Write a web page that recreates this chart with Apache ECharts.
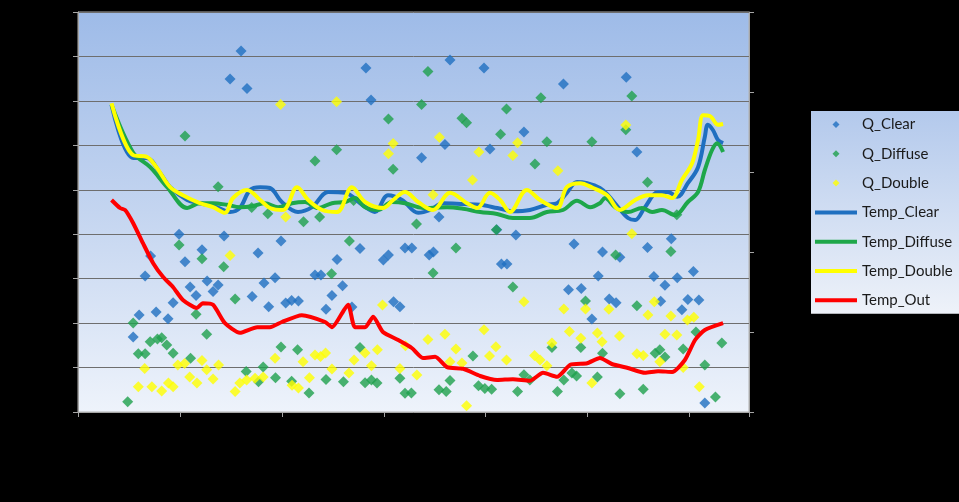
<!DOCTYPE html>
<html>
<head>
<meta charset="utf-8">
<script src="https://cdn.jsdelivr.net/npm/echarts@6/dist/echarts.min.js"></script>
<style>
html,body{margin:0;padding:0;background:#000;}
#chart{width:959px;height:502px;}
</style>
</head>
<body>
<div id="chart"></div>
<script>
// ---- data ----
const seriesNames = ['Q_Clear','Q_Diffuse','Q_Double','Temp_Clear','Temp_Diffuse','Temp_Double','Temp_Out'];

const qClear = [[13.0,169],[14.4,218],[15.8,306],[17.1,351],[18.4,225],[21.2,210],[22.4,246],[23.8,400],[25.2,338],[26.4,281],[27.8,262],[29.2,365],[30.4,295],[31.8,271],[33.0,286],[34.4,396],[35.8,749],[38.4,812],[39.8,728],[41.0,260],[42.4,358],[43.8,290],[44.9,237],[46.4,302],[47.8,385],[48.9,245],[50.3,251],[51.9,250],[55.8,308],[57.2,308],[58.4,231],[59.8,262],[61.0,343],[62.3,284],[64.5,236],[66.4,368],[67.8,774],[69.0,702],[71.9,342],[73.1,353],[74.3,248],[75.8,237],[77.0,369],[78.6,369],[80.9,572],[82.7,353],[83.7,360],[85.0,439],[86.4,602],[87.6,792],[95.6,774],[97.0,592],[98.6,410],[99.7,333],[101.0,333],[103.1,398],[105.0,630],[114.3,738],[115.5,275],[116.8,378],[118.5,278],[121.0,209],[122.5,306],[123.5,360],[125.1,254],[126.7,246],[127.6,348],[129.1,753],[131.6,585],[134.1,370],[135.6,305],[137.2,249],[138.2,285],[139.7,390],[141.1,302],[142.2,230],[143.6,253],[144.9,316],[146.2,252],[147.6,20]];

const qDiffuse = [[11.7,23],[13.0,200],[14.2,131],[15.8,131],[17.0,158],[18.7,164],[19.7,167],[20.9,151],[22.4,132],[23.8,376],[25.2,621],[26.5,121],[27.8,220],[29.2,345],[30.3,175],[33.0,507],[34.3,327],[37.0,254],[39.6,91],[40.9,460],[42.5,68],[43.6,101],[44.7,446],[46.5,77],[47.8,146],[50.3,69],[51.7,140],[53.1,428],[54.4,43],[55.8,565],[56.9,439],[58.4,73],[59.7,311],[60.9,590],[62.5,68],[63.9,385],[64.9,476],[66.4,145],[67.6,66],[69.1,72],[70.4,65],[73.1,659],[74.2,546],[75.8,76],[77.0,42],[78.5,43],[79.7,423],[80.9,692],[82.4,766],[83.6,313],[85.0,50],[86.7,46],[87.6,71],[89.0,369],[90.4,661],[91.5,651],[93.0,126],[94.3,59],[95.8,53],[97.4,51],[98.5,410],[99.5,625],[100.9,682],[102.4,281],[103.5,46],[105.0,84],[106.4,72],[107.6,558],[109.0,707],[110.4,608],[111.6,145],[112.9,46],[114.4,72],[116.3,88],[117.4,81],[118.4,145],[119.5,250],[121.0,608],[122.3,79],[123.5,132],[126.6,353],[127.6,41],[129.0,635],[130.4,711],[131.6,239],[133.1,51],[134.1,517],[135.9,132],[137.0,140],[138.2,124],[139.6,361],[141.0,444],[142.5,142],[145.5,180],[147.6,106],[150.1,34],[151.6,155]];

const qDouble = [[14.2,57],[15.7,98],[17.4,57],[19.7,47],[21.3,65],[22.4,57],[23.5,106],[25.1,109],[26.3,79],[28.0,65],[29.2,116],[30.3,95],[31.8,74],[33.1,106],[35.8,352],[37.0,46],[38.1,65],[39.7,72],[41.7,76],[43.6,79],[46.4,121],[47.7,692],[48.9,439],[50.4,60],[51.9,54],[53.0,113],[54.5,77],[55.8,128],[57.1,125],[58.3,133],[59.8,97],[60.9,698],[63.8,88],[65.0,117],[67.6,133],[69.1,104],[70.5,140],[71.7,241],[73.1,581],[74.2,604],[75.8,98],[77.1,149],[79.8,83],[82.4,163],[83.6,489],[85.1,618],[86.4,175],[87.6,113],[89.0,142],[90.4,110],[91.5,14],[92.9,522],[94.4,585],[95.6,185],[96.9,126],[98.4,147],[100.9,117],[102.4,577],[103.5,606],[105.0,248],[107.5,127],[108.8,117],[110.4,104],[111.6,155],[113.0,543],[114.4,232],[115.7,181],[118.4,166],[119.5,232],[121.0,65],[122.3,178],[123.4,158],[125.0,231],[127.5,171],[129.0,646],[130.4,401],[131.6,131],[133.1,127],[134.2,218],[135.7,248],[137.0,113],[138.2,175],[139.6,216],[141.0,173],[142.5,100],[143.5,207],[145.0,213],[146.3,57]];

const tempClear = [[7.9,38.4],[13.0,31.75],[16.2,31.75],[19.3,29.9],[21.7,28.1],[25.7,26.5],[28.7,26.1],[32.7,25.6],[35.8,25.0],[38.1,25.5],[40.5,27.75],[42.9,28.1],[45.2,28.0],[48.0,26.25],[51.8,25.0],[55.1,25.6],[58.9,27.5],[62.9,27.4],[66.9,25.9],[69.9,25.0],[73.0,27.1],[76.3,26.5],[80.1,24.9],[82.9,25.25],[85.9,26.1],[90.7,26.0],[94.7,25.9],[98.7,25.5],[102.4,25.1],[106.4,25.25],[110.4,25.9],[112.8,26.1],[115.1,27.4],[117.5,28.75],[119.9,28.6],[122.9,28.0],[124.8,27.1],[127.2,25.6],[129.5,24.25],[131.2,24.0],[133.5,25.6],[136.6,27.5],[138.9,27.5],[141.1,26.9],[143.6,28.6],[146.0,30.6],[147.6,34.4],[148.3,35.9],[149.5,35.25],[150.7,34.0],[151.9,33.6]];

const tempDiffuse = [[7.9,38.4],[13.0,32.4],[17.0,30.6],[21.0,28.1],[25.7,25.5],[28.7,26.1],[31.8,26.1],[35.1,25.9],[38.1,25.6],[41.2,25.75],[44.0,26.1],[47.1,25.6],[50.4,26.1],[53.5,26.25],[56.5,25.5],[59.8,26.1],[62.9,26.25],[65.2,26.75],[67.6,25.6],[70.6,25.25],[73.9,26.25],[77.0,26.1],[80.1,25.6],[82.9,25.5],[86.9,25.6],[90.7,25.4],[94.7,25.0],[98.7,24.75],[102.4,24.25],[106.4,24.25],[110.4,25.0],[114.2,25.25],[117.5,26.4],[120.6,25.6],[122.9,26.1],[124.1,26.75],[126.5,25.6],[129.5,25.0],[132.8,25.5],[135.2,25.0],[137.5,25.25],[140.6,24.6],[143.6,26.25],[146.0,27.5],[147.6,30.25],[149.3,32.75],[150.5,33.6],[151.9,32.5]];

const tempDouble = [[7.9,38.6],[13.0,32.1],[16.2,31.9],[18.6,30.5],[21.7,28.1],[24.7,27.1],[28.7,26.1],[31.8,25.6],[34.6,24.9],[36.5,26.75],[39.8,27.75],[42.9,26.5],[45.2,25.5],[48.3,25.25],[51.6,28.1],[54.2,26.5],[57.5,25.25],[61.0,25.0],[64.5,28.1],[67.6,26.25],[71.8,25.5],[74.2,26.5],[77.0,27.5],[80.1,26.25],[83.6,25.25],[87.6,27.4],[91.6,26.1],[94.0,25.5],[97.0,27.4],[99.4,26.5],[101.7,25.0],[105.7,27.75],[108.8,26.5],[112.8,25.5],[115.1,28.1],[118.2,28.6],[121.3,28.0],[124.6,27.1],[127.6,25.25],[131.2,26.5],[134.2,27.1],[137.5,27.1],[139.9,26.75],[142.2,29.0],[144.6,31.1],[146.0,34.0],[147.2,37.1],[148.8,37.0],[150.7,35.9],[151.9,36.0]];

const tempOut = [[7.9,26.5],[9.9,25.5],[11.1,25.25],[13.0,23.6],[15.3,21.1],[17.7,18.6],[20.0,16.9],[22.4,15.6],[24.7,14.0],[28.0,13.0],[29.4,13.6],[31.8,13.4],[34.6,11.1],[38.1,9.9],[42.2,10.6],[45.2,10.6],[48.0,11.25],[52.7,12.1],[58.2,11.25],[59.8,10.6],[63.6,13.4],[65.2,10.6],[67.6,10.6],[69.5,11.9],[71.8,10.0],[75.4,9.0],[78.6,8.0],[81.2,6.75],[84.1,6.9],[86.9,5.6],[90.7,5.4],[94.7,4.5],[98.7,4.0],[102.4,4.1],[106.4,3.9],[109.5,4.9],[112.8,4.4],[115.9,5.9],[119.9,6.1],[122.9,6.75],[125.7,6.0],[129.5,5.5],[133.5,4.9],[136.6,5.1],[139.9,5.0],[142.9,6.5],[145.3,9.0],[147.6,10.25],[151.9,11.1]];

// ---- chart ----
const colors = {
  qClear:'#1f6fc0', qDiffuse:'#1ea04c', qDouble:'#ffff00',
  tClear:'#1f6fc0', tDiffuse:'#1ea74a', tDouble:'#ffff00', tOut:'#ff0000'
};
const diamondIcon = 'path://M0,0 M42,14 M21,3.5 L24.5,7 L21,10.5 L17.5,7 Z';
const barIcon = 'path://M0,0 M42,14 M0,5 L42,5 L42,9 L0,9 Z';

const chart = echarts.init(document.getElementById('chart'), null, {renderer:'canvas'});
const axisGray = '#a6a6a6';
function scatter(name, data, color){
  return {name, type:'scatter', data, yAxisIndex:0, symbol:'diamond', symbolSize:11,
          itemStyle:{color}, z:2};
}
function line(name, data, color, smooth){
  return {name, type:'line', data, yAxisIndex:1, showSymbol:false, symbol:'none',
          smooth, lineStyle:{color, width:4}, itemStyle:{color}, z:3};
}
function legendItem(name, icon){
  return {name, icon, itemStyle:{borderWidth:0}};
}
chart.setOption({
  backgroundColor:'#000000',
  animation:false,
  grid:{left:78, right:210, top:12, bottom:90, show:true, borderColor:'#b0b0b0', borderWidth:1,
    backgroundColor:{type:'linear', x:0, y:0, x2:0, y2:1,
      colorStops:[{offset:0,color:'#9ebbe8'},{offset:0.5,color:'#c4d5f0'},{offset:1,color:'#eef3fb'}]}},
  xAxis:{type:'value', min:0, max:158, interval:24,
    axisLine:{show:true, onZero:false, lineStyle:{color:axisGray}},
    axisTick:{show:true, length:5, lineStyle:{color:axisGray}},
    axisLabel:{show:false}, splitLine:{show:false}},
  yAxis:[
    {type:'value', position:'left', min:0, max:900, interval:100,
     axisLine:{show:true, lineStyle:{color:axisGray}},
     axisTick:{show:true, length:5, lineStyle:{color:axisGray}},
     axisLabel:{show:false},
     splitLine:{show:true, lineStyle:{color:'#6e6e6e', width:1}}},
    {type:'value', position:'right', min:0, max:50, interval:10,
     axisLine:{show:true, lineStyle:{color:axisGray}},
     axisTick:{show:true, length:5, lineStyle:{color:axisGray}},
     axisLabel:{show:false}, splitLine:{show:false}}
  ],
  legend:{orient:'vertical', left:811, top:111, itemWidth:42, itemHeight:14, itemGap:14.3,
    padding:[6,20,6,4],
    backgroundColor:{type:'linear', x:0, y:0, x2:0, y2:1,
      colorStops:[{offset:0,color:'#b3c9ec'},{offset:1,color:'#eef2f9'}]},
    textStyle:{fontFamily:'Lato', fontSize:15, color:'#1a1a1a'},
    data:[
      legendItem(seriesNames[0], diamondIcon),
      legendItem(seriesNames[1], diamondIcon),
      legendItem(seriesNames[2], diamondIcon),
      legendItem(seriesNames[3], barIcon),
      legendItem(seriesNames[4], barIcon),
      legendItem(seriesNames[5], barIcon),
      legendItem(seriesNames[6], barIcon)
    ]},
  series:[
    scatter(seriesNames[0], qClear, colors.qClear),
    scatter(seriesNames[1], qDiffuse, colors.qDiffuse),
    scatter(seriesNames[2], qDouble, colors.qDouble),
    line(seriesNames[3], tempClear, colors.tClear, 0.35),
    line(seriesNames[4], tempDiffuse, colors.tDiffuse, 0.35),
    line(seriesNames[5], tempDouble, colors.tDouble, 0.35),
    line(seriesNames[6], tempOut, colors.tOut, 0.2)
  ]
});
</script>
</body>
</html>
